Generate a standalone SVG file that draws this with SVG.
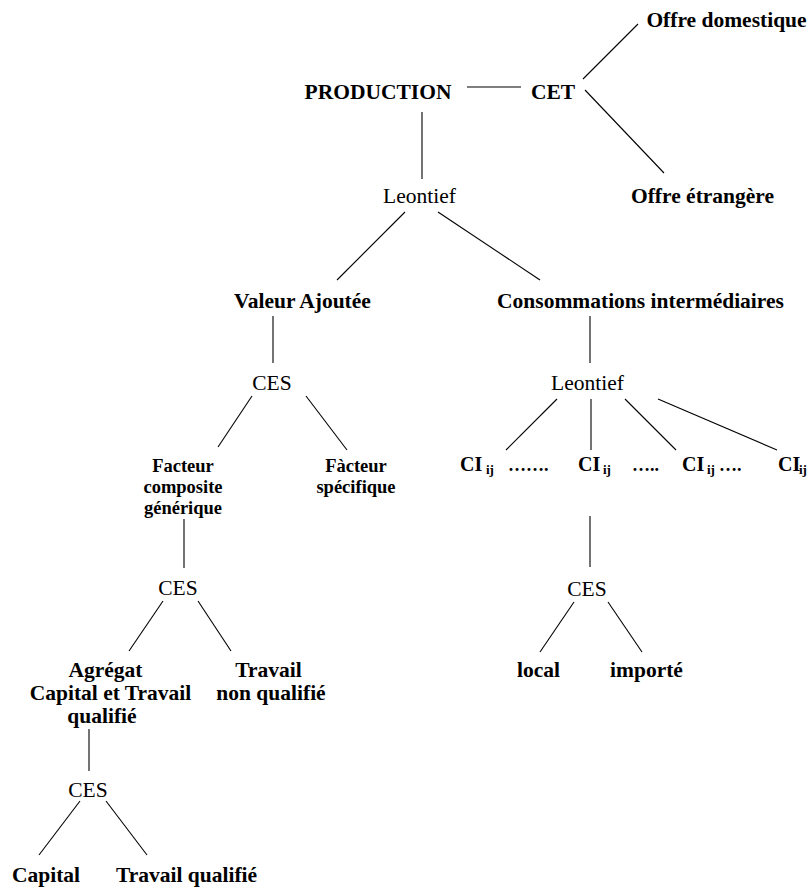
<svg xmlns="http://www.w3.org/2000/svg" width="809" height="889" viewBox="0 0 809 889">
<style>
text { font-family: "Liberation Serif", "Times New Roman", serif; fill: #000; }
.b { font-weight: bold; font-size: 21.5px; text-anchor: middle; }
.r { font-size: 21.5px; text-anchor: middle; }
.s { font-weight: bold; font-size: 18.5px; text-anchor: middle; }
.ci { font-weight: bold; font-size: 20px; }
.sub { font-weight: bold; font-size: 13px; }
.dots { font-weight: bold; font-size: 18px; }
#connectors line { stroke: #000; stroke-width: 1.1; }
</style>
<rect width="809" height="889" fill="#fff"/>
<g id="connectors">
  <line x1="467" y1="87" x2="521" y2="87"/>
  <line x1="583" y1="79" x2="638" y2="24"/>
  <line x1="585" y1="90" x2="664" y2="173"/>
  <line x1="422" y1="112" x2="422" y2="179"/>
  <line x1="405" y1="212" x2="337" y2="280"/>
  <line x1="438" y1="212" x2="540" y2="280"/>
  <line x1="273" y1="316" x2="273" y2="363"/>
  <line x1="590" y1="316" x2="590" y2="363"/>
  <line x1="252" y1="396" x2="218" y2="447"/>
  <line x1="306" y1="396" x2="347" y2="450"/>
  <line x1="557" y1="399" x2="506" y2="450"/>
  <line x1="591" y1="399" x2="591" y2="450"/>
  <line x1="625" y1="399" x2="676" y2="450"/>
  <line x1="658" y1="399" x2="777" y2="450"/>
  <line x1="184" y1="519" x2="184" y2="568"/>
  <line x1="590" y1="516" x2="590" y2="567"/>
  <line x1="163" y1="601" x2="129" y2="651"/>
  <line x1="198" y1="601" x2="231" y2="651"/>
  <line x1="574" y1="602" x2="540" y2="652"/>
  <line x1="608" y1="602" x2="642" y2="652"/>
  <line x1="89" y1="729" x2="89" y2="771"/>
  <line x1="80" y1="801" x2="39" y2="855"/>
  <line x1="106" y1="801" x2="147" y2="855"/>
</g>
<g id="offre-domestique"><text class="b" x="726.5" y="27">Offre domestique</text></g>
<g id="production"><text class="b" x="378" y="99">PRODUCTION</text></g>
<g id="cet"><text class="b" x="553" y="99">CET</text></g>
<g id="leontief-1"><text class="r" x="419.5" y="203">Leontief</text></g>
<g id="offre-etrangere"><text class="b" x="702.5" y="203">Offre étrangère</text></g>
<g id="valeur-ajoutee"><text class="b" x="302.5" y="308">Valeur Ajoutée</text></g>
<g id="consommations"><text class="b" x="640.5" y="308">Consommations intermédiaires</text></g>
<g id="ces-1"><text class="r" x="272" y="390">CES</text></g>
<g id="leontief-2"><text class="r" x="587.5" y="390">Leontief</text></g>
<g id="facteur-composite">
  <text class="s" x="183" y="472">Facteur</text>
  <text class="s" x="183" y="493">composite</text>
  <text class="s" x="183" y="514">générique</text>
</g>
<g id="facteur-specifique">
  <text class="s" x="356" y="472">Fàcteur</text>
  <text class="s" x="356" y="493">spécifique</text>
</g>
<g id="ci-1"><text class="ci" x="460" y="471">CI</text><text class="sub" x="486" y="474">ij</text><text class="dots" x="508" y="471">…….</text></g>
<g id="ci-2"><text class="ci" x="578" y="471">CI</text><text class="sub" x="603" y="474">ij</text><text class="dots" x="632" y="471">…..</text></g>
<g id="ci-3"><text class="ci" x="682" y="471">CI</text><text class="sub" x="707" y="474">ij</text><text class="dots" x="719" y="471">….</text></g>
<g id="ci-4"><text class="ci" x="778" y="471">CI</text><text class="sub" x="799" y="474">ij</text></g>
<g id="ces-2"><text class="r" x="178" y="595">CES</text></g>
<g id="ces-3"><text class="r" x="587" y="596">CES</text></g>
<g id="agregat">
  <text class="b" x="105.5" y="677">Agrégat</text>
  <text class="b" x="110.5" y="700">Capital et Travail</text>
  <text class="b" x="102" y="723">qualifié</text>
</g>
<g id="travail-non-qualifie">
  <text class="b" x="268.5" y="677">Travail</text>
  <text class="b" x="271" y="700">non qualifié</text>
</g>
<g id="local"><text class="b" x="538.5" y="677">local</text></g>
<g id="importe"><text class="b" x="646.5" y="677">importé</text></g>
<g id="ces-4"><text class="r" x="88" y="797">CES</text></g>
<g id="capital"><text class="b" x="46" y="882">Capital</text></g>
<g id="travail-qualifie"><text class="b" x="186.5" y="882">Travail qualifié</text></g>
</svg>
